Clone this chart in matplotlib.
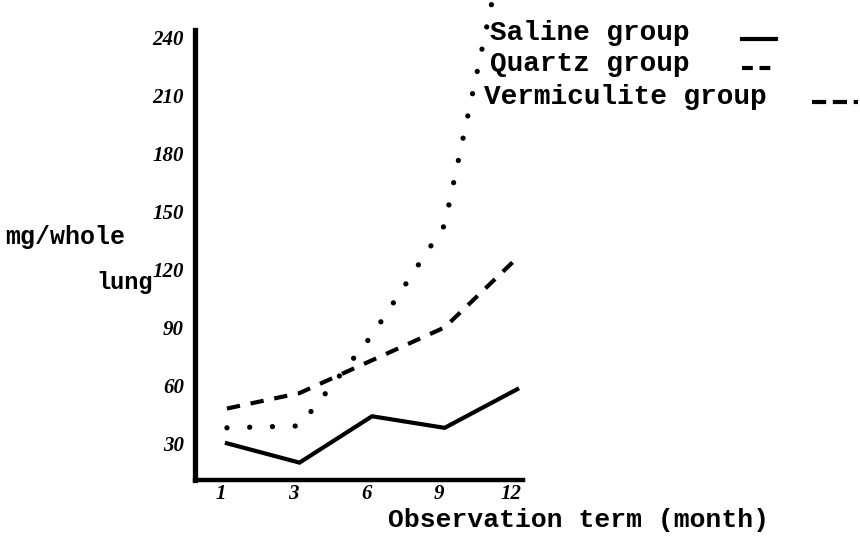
import matplotlib.pyplot as plt
from matplotlib.lines import Line2D

# observation months and lung content (mg / whole lung)
months = ['1', '3', '6', '9', '12']
y_ticks = [30, 60, 90, 120, 150, 180, 210, 240]
saline = [30, 20, 44, 38, 58]
quartz = [48, 56, 73, 90, 126]
vermiculite = [38, 39, 86, 143, 320]

W, H = 860, 540
fig = plt.figure(figsize=(W / 100, H / 100), dpi=100)
ax = fig.add_axes([195 / W, 1 - 480 / H, (523 - 195) / W, (480 - 30) / H])

x = list(range(len(months)))
ax.plot(x, saline, color='black', lw=3.0, solid_joinstyle='miter')
ax.plot(x, quartz, color='black', lw=3.0, linestyle=(0, (3.2, 2.6)), clip_on=False)
ax.plot(x, vermiculite, color='black', lw=3.8, linestyle=(0, (0.01, 4.3)),
        dash_capstyle='round', clip_on=False)

ax.set_xlim(-0.44, 4.08)
ax.set_ylim(11, 244)
ax.set_xticks([i - 0.08 for i in x])
ax.set_xticklabels(months)
ax.set_yticks(y_ticks)
ax.set_yticklabels([str(v) for v in y_ticks])
ax.tick_params(length=0)
ax.tick_params(axis='x', pad=3)
ax.tick_params(axis='y', pad=8)
for lab in ax.get_xticklabels() + ax.get_yticklabels():
    lab.set_fontfamily('Liberation Serif')
    lab.set_fontweight('bold')
    lab.set_fontstyle('italic')
    lab.set_fontsize(15)

for side in ['top', 'right']:
    ax.spines[side].set_visible(False)
ax.spines['left'].set_linewidth(3.8)
ax.spines['bottom'].set_linewidth(3.2)
ax.patch.set_alpha(0)


def px_text(px, py, s, size=20):
    fig.text(px / W, 1 - py / H, s, family='Liberation Mono', weight='bold',
             size=size, va='center', ha='left')


def px_line(x0, x1, py, **kw):
    fig.add_artist(Line2D([x0 / W, x1 / W], [1 - py / H, 1 - py / H],
                          transform=fig.transFigure, color='black', **kw))


# legend drawn as text with short line samples
px_text(490, 33, 'Saline group')
px_text(490, 64, 'Quartz group')
px_text(484, 97, 'Vermiculite group')
px_line(742, 776, 39, lw=3.0)
px_line(742, 772, 68, lw=3.0, linestyle=(0, (2.6, 1.6)))
px_line(812, 858, 102, lw=3.0, linestyle=(0, (3.4, 1.6)))

# axis titles
px_text(5, 237, 'mg/whole', size=18)
px_text(96, 283, 'lung', size=17)
px_text(388, 520, 'Observation term (month)', size=19)

fig.savefig('out.png', dpi=100, facecolor='white')
